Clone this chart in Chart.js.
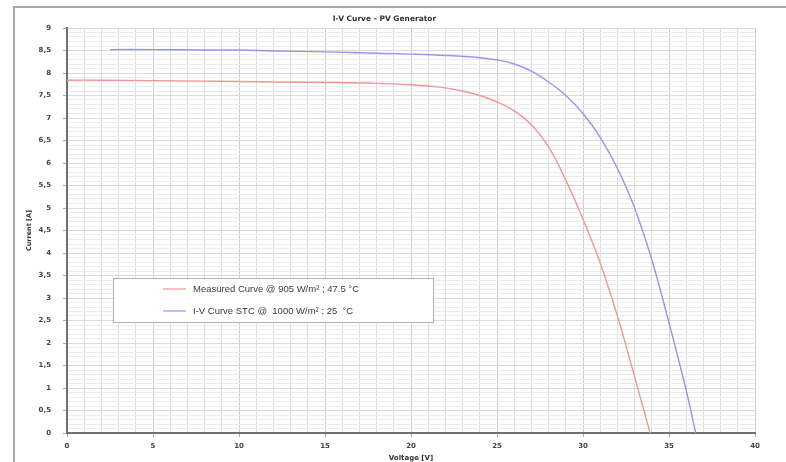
<!DOCTYPE html>
<html>
<head>
<meta charset="utf-8">
<script src="https://cdn.jsdelivr.net/npm/chart.js@4/dist/chart.umd.min.js"></script>
<style>
  html, body { margin: 0; padding: 0; background: #fff; }
  #wrap { width: 786px; height: 462px; }
</style>
</head>
<body>
<div id="wrap"><canvas id="myChart" width="786" height="462"></canvas></div>
<script>
// measured curve (red)
const measuredV = [0, 2, 5, 8, 10, 12, 15, 18, 20, 21, 22, 23, 24, 25, 26, 27, 28, 29, 30, 31, 32, 33, 33.9];
const measuredI = [7.84, 7.84, 7.83, 7.82, 7.81, 7.8, 7.79, 7.77, 7.74, 7.71, 7.67, 7.6, 7.5, 7.36, 7.16, 6.85, 6.36, 5.62, 4.75, 3.78, 2.6, 1.25, 0];
// STC curve (blue)
const stcV = [2.5, 5, 8, 10, 12, 15, 18, 20, 22, 24, 25, 26, 27, 28, 29, 30, 31, 32, 33, 34, 35, 36, 36.55];
const stcI = [8.52, 8.52, 8.51, 8.51, 8.49, 8.47, 8.44, 8.42, 8.39, 8.34, 8.29, 8.2, 8.04, 7.8, 7.5, 7.1, 6.57, 5.88, 5.0, 3.85, 2.45, 0.95, 0];

const seriesLabels = ['Measured Curve @ 905 W/m² ; 47.5 °C', 'I-V Curve STC @  1000 W/m² ; 25  °C'];
const seriesColors = ['rgb(240, 150, 150)', 'rgb(150, 150, 236)'];
const xTitle = 'Voltage [V]';
const yTitle = 'Current [A]';
const chartTitle = 'I-V Curve - PV Generator';

const toPts = (xs, ys) => xs.map((x, i) => ({ x: x, y: ys[i] }));

// frame around the whole chart + legend box
const extras = {
  id: 'extras',
  beforeDraw(chart) {
    const c = chart.ctx;
    c.save();
    c.fillStyle = '#fff';
    c.fillRect(0, 0, chart.width, chart.height);
    c.strokeStyle = '#a8a8a8';
    c.lineWidth = 2;
    c.beginPath();
    c.moveTo(14, chart.height);
    c.lineTo(14, 7);
    c.lineTo(chart.width, 7);
    c.stroke();
    c.restore();
  },
  afterDatasetsDraw(chart) {
    const c = chart.ctx;
    c.save();
    c.fillStyle = '#fff';
    c.fillRect(113, 278, 320, 44);
    c.strokeStyle = '#b0b0b0';
    c.lineWidth = 1;
    c.strokeRect(113.5, 278.5, 320, 44);
    c.font = '9.5px "Liberation Sans", Arial, sans-serif';
    c.textBaseline = 'middle';
    chart.data.datasets.forEach((ds, i) => {
      const y = 289 + i * 22;
      c.strokeStyle = seriesColors[i];
      c.lineWidth = 1.2;
      c.beginPath();
      c.moveTo(163, y);
      c.lineTo(186, y);
      c.stroke();
      c.fillStyle = '#3a3a3a';
      c.fillText(ds.label, 193, y);
    });
    c.restore();
  }
};

const isMajor = (v, step) => Math.abs(Math.round(v / step) * step - v) < 1e-6;

var ctx = document.getElementById('myChart').getContext('2d');
var chart = new Chart(ctx, {
  type: 'line',
  data: {
    datasets: [{
      label: seriesLabels[0],
      data: toPts(measuredV, measuredI),
      borderColor: seriesColors[0],
      borderWidth: 1.4,
      pointRadius: 0,
      tension: 0.4
    }, {
      label: seriesLabels[1],
      data: toPts(stcV, stcI),
      borderColor: seriesColors[1],
      borderWidth: 1.4,
      pointRadius: 0,
      tension: 0.4
    }]
  },
  options: {
    responsive: false,
    animation: false,
    layout: { padding: { left: 14, top: 7, right: 31, bottom: 0 } },
    plugins: {
      legend: { display: false },
      tooltip: { enabled: false },
      title: {
        display: true,
        text: chartTitle,
        color: '#333',
        font: { family: 'DejaVu Sans', size: 7.5, weight: 'bold' },
        padding: { top: 8, bottom: 4 }
      }
    },
    scales: {
      x: {
        type: 'linear',
        min: 0, max: 40,
        border: { color: '#707070', width: 2 },
        grid: {
          color: ctx => isMajor(ctx.tick.value, 5) ? '#cfcfcf' : '#dedede',
          tickColor: ctx => isMajor(ctx.tick.value, 5) ? '#aaa' : 'rgba(0,0,0,0)',
          tickLength: 4
        },
        ticks: {
          stepSize: 1,
          autoSkip: false,
          maxRotation: 0,
          padding: 5,
          color: '#444',
          font: { family: 'DejaVu Sans', size: 7, weight: 'bold' },
          callback: v => isMajor(v, 5) ? String(v) : ''
        },
        title: {
          display: true, text: xTitle, color: '#333',
          font: { family: 'DejaVu Sans', size: 7, weight: 'bold' },
          padding: { top: 0, bottom: 0 }
        },
        afterFit: s => { s.height = 29; }
      },
      y: {
        type: 'linear',
        min: 0, max: 9,
        border: { color: '#707070', width: 2 },
        grid: {
          color: ctx => isMajor(ctx.tick.value, 0.5) ? '#dadada' : '#ececec',
          tickColor: ctx => isMajor(ctx.tick.value, 0.5) ? '#aaa' : 'rgba(0,0,0,0)',
          tickLength: 4
        },
        ticks: {
          stepSize: 0.1,
          autoSkip: false,
          maxTicksLimit: 200,
          padding: 12,
          color: '#444',
          font: { family: 'DejaVu Sans', size: 7, weight: 'bold' },
          callback: v => isMajor(v, 0.5) ? String(Math.round(v * 10) / 10).replace('.', ',') : ''
        },
        title: {
          display: true, text: yTitle, color: '#333',
          font: { family: 'DejaVu Sans', size: 6.5, weight: 'bold' },
          padding: { top: 11, bottom: 0 }
        },
        afterFit: s => { s.width = 53; }
      }
    }
  },
  plugins: [extras]
});
</script>
</body>
</html>
